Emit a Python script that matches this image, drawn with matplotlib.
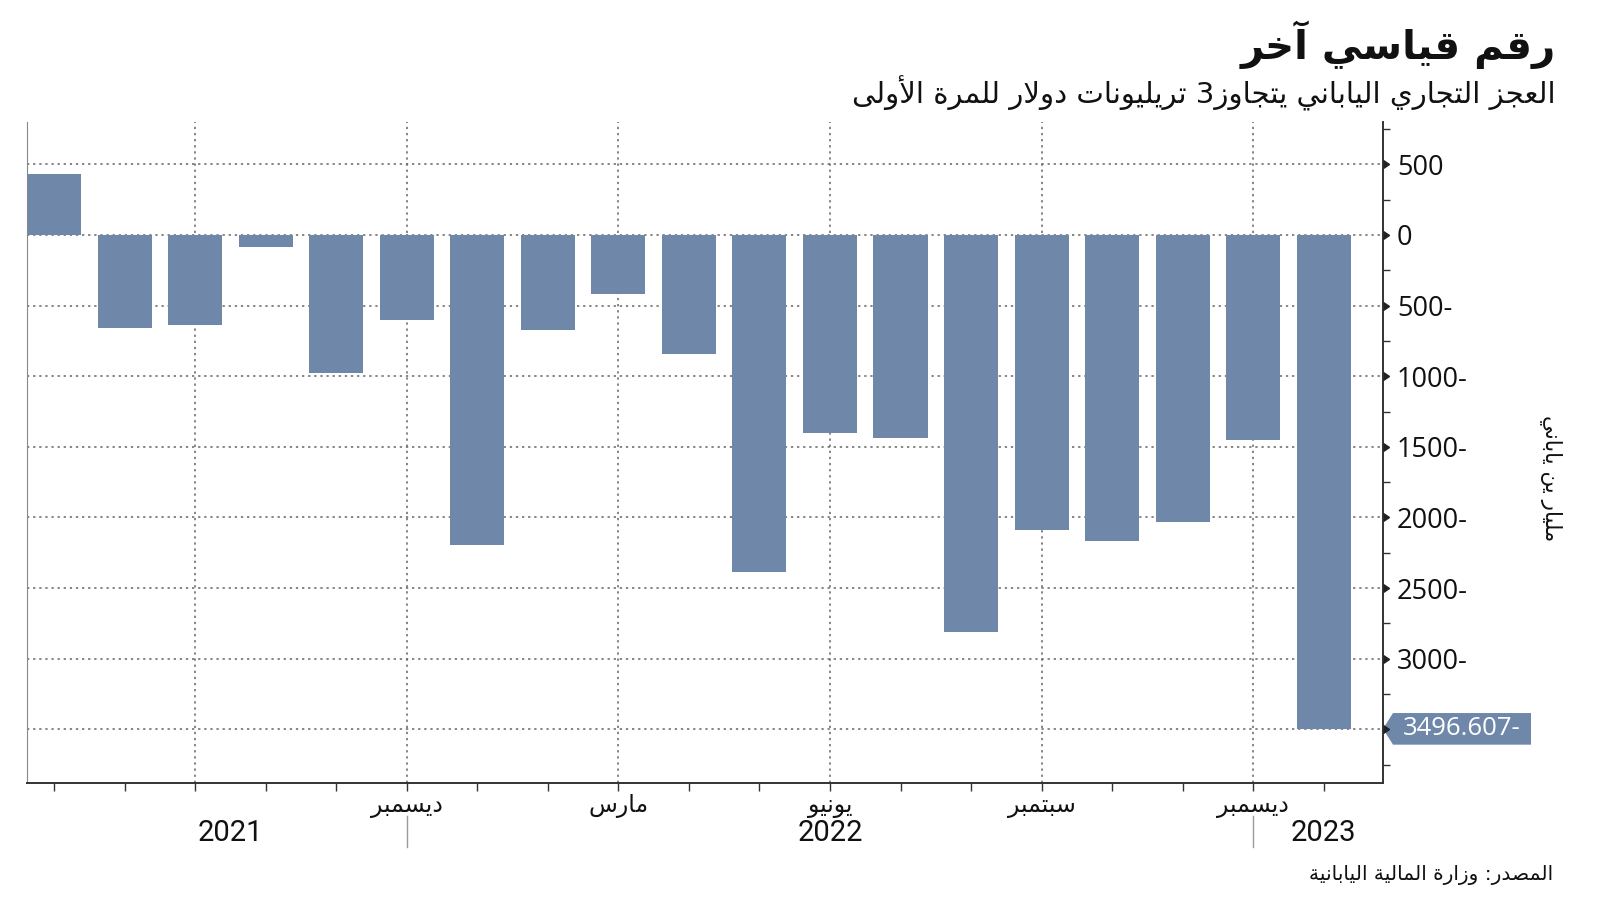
import re
import matplotlib
matplotlib.use("Agg")
import matplotlib.pyplot as plt
from matplotlib import transforms
from matplotlib.patches import Polygon
from matplotlib.ticker import FuncFormatter, FixedLocator

# Japanese trade balance, billion yen, Jul 2021 .. Jan 2023
months = ["2021-07", "2021-08", "2021-09", "2021-10", "2021-11", "2021-12",
          "2022-01", "2022-02", "2022-03", "2022-04", "2022-05", "2022-06",
          "2022-07", "2022-08", "2022-09", "2022-10", "2022-11", "2022-12",
          "2023-01"]
balance = [430, -655, -640, -85, -975, -600,
           -2195, -672, -418, -845, -2385, -1400,
           -1438, -2810, -2090, -2165, -2030, -1448,
           -3496.607]

grid_idx = [2, 5, 8, 11, 14, 17]
month_labels = ["", "ديسمبر", "مارس", "يونيو", "سبتمبر", "ديسمبر"]
years = ["2021", "2022", "2023"]
year_pos = [2.5, 11, 18]
year_breaks = [5, 17]
yticks = [500, 0, -500, -1000, -1500, -2000, -2500, -3000, -3500]

title = "رقم قياسي آخر"
subtitle = "العجز التجاري الياباني يتجاوز3 تريليونات دولار للمرة الأولى"
ylabel = "مليار ين ياباني"
source = "المصدر: وزارة المالية اليابانية"

BAR = "#6f88aa"
NUM_FONT = ['Open Sans', 'DejaVu Sans']
YEAR_FONT = ['Roboto', 'DejaVu Sans']

# --- tiny arabic shaper (matplotlib has no complex text layout) ---
FORMS = {
    '\u0627': ('\uFE8D', '\uFE8E', None, None),
    '\u0622': ('\uFE81', '\uFE82', None, None),
    '\u0623': ('\uFE83', '\uFE84', None, None),
    '\u0628': ('\uFE8F', '\uFE90', '\uFE91', '\uFE92'),
    '\u0629': ('\uFE93', '\uFE94', None, None),
    '\u062A': ('\uFE95', '\uFE96', '\uFE97', '\uFE98'),
    '\u062C': ('\uFE9D', '\uFE9E', '\uFE9F', '\uFEA0'),
    '\u062E': ('\uFEA5', '\uFEA6', '\uFEA7', '\uFEA8'),
    '\u062F': ('\uFEA9', '\uFEAA', None, None),
    '\u0631': ('\uFEAD', '\uFEAE', None, None),
    '\u0632': ('\uFEAF', '\uFEB0', None, None),
    '\u0633': ('\uFEB1', '\uFEB2', '\uFEB3', '\uFEB4'),
    '\u0635': ('\uFEB9', '\uFEBA', '\uFEBB', '\uFEBC'),
    '\u0639': ('\uFEC9', '\uFECA', '\uFECB', '\uFECC'),
    '\u0642': ('\uFED5', '\uFED6', '\uFED7', '\uFED8'),
    '\u0644': ('\uFEDD', '\uFEDE', '\uFEDF', '\uFEE0'),
    '\u0645': ('\uFEE1', '\uFEE2', '\uFEE3', '\uFEE4'),
    '\u0646': ('\uFEE5', '\uFEE6', '\uFEE7', '\uFEE8'),
    '\u0648': ('\uFEED', '\uFEEE', None, None),
    '\u0649': ('\uFEEF', '\uFEF0', None, None),
    '\u064A': ('\uFEF1', '\uFEF2', '\uFEF3', '\uFEF4'),
}
LAM_ALEF = {'\u0627': ('\uFEFB', '\uFEFC'), '\u0622': ('\uFEF5', '\uFEF6'),
            '\u0623': ('\uFEF7', '\uFEF8')}


def ar(s):
    def dual(c):
        return c in FORMS and FORMS[c][2] is not None
    out = []
    i, n = 0, len(s)
    while i < n:
        c = s[i]
        prev = s[i - 1] if i > 0 else ''
        jp = c in FORMS and dual(prev)
        if c == '\u0644' and i + 1 < n and s[i + 1] in LAM_ALEF:
            out.append(LAM_ALEF[s[i + 1]][1 if jp else 0])
            i += 2
            continue
        if c not in FORMS:
            out.append(c)
            i += 1
            continue
        nxt = s[i + 1] if i + 1 < n else ''
        jn = dual(c) and nxt in FORMS
        iso, fin, ini, med = FORMS[c]
        out.append(med if jp and jn else fin if jp else ini if jn else iso)
        i += 1
    toks = re.findall(r'[0-9A-Za-z.]+|.', ''.join(out))
    return ''.join(toks[::-1])


plt.rcParams['font.family'] = ['DejaVu Sans']

fig = plt.figure(figsize=(16, 9.01), dpi=100)
ax = fig.add_axes([27 / 1600, 1 - 783 / 901, 1356 / 1600, 661 / 901])

x = list(range(len(months)))
ax.bar(x, balance, width=0.766, color=BAR, zorder=2)

ax.set_xlim(-0.383, 18.84)
ax.set_ylim(-3880, 800)

# grid
ax.set_axisbelow(True)
ax.xaxis.set_major_locator(FixedLocator(grid_idx))
ax.xaxis.set_minor_locator(FixedLocator(x))
ax.set_xticklabels([ar(m) for m in month_labels])
ax.tick_params(axis='x', which='both', length=6, width=1, color='#333',
               labelsize=17, pad=2, labelcolor='#111')
ax.yaxis.tick_right()
ax.yaxis.set_major_locator(FixedLocator(yticks))
ax.yaxis.set_minor_locator(FixedLocator([v - 250 for v in yticks] + [750]))
ax.yaxis.set_major_formatter(FuncFormatter(
    lambda v, p: "" if v < -3250 else (f"{abs(int(v))}-" if v < 0 else f"{int(v)}")))
ax.tick_params(axis='y', which='major', length=0, pad=10, labelsize=19.5,
               labelcolor='#111')
for lab in ax.get_yticklabels():
    lab.set_family(NUM_FONT)
ax.tick_params(axis='y', which='minor', length=5, width=1, color='#333')
ax.grid(True, which='major', linestyle=(0, (1.5, 2.5)), color='#666', lw=1.1)

ax.spines['top'].set_visible(False)
ax.spines['left'].set_color('#888')
ax.spines['right'].set_color('#333')
ax.spines['right'].set_linewidth(1.4)
ax.spines['bottom'].set_color('#333')
ax.spines['bottom'].set_linewidth(1.4)

# caret ticks on right axis
blend = transforms.blended_transform_factory(ax.transAxes, ax.transData)
ax.plot([1] * len(yticks), yticks, marker=9, ls='none', ms=6, color='#222',
        transform=blend, clip_on=False, zorder=5)

# value tag on last bar
last = balance[-1]
h = 112
w = 148 / 1356
tip = 10 / 1356
tag = Polygon([(1.0, last), (1.0 + tip, last + h), (1.0 + w, last + h),
               (1.0 + w, last - h), (1.0 + tip, last - h)], closed=True,
              facecolor=BAR, edgecolor='none', transform=blend, clip_on=False)
ax.add_patch(tag)
ax.text(1.0 + tip + (w - tip) / 2, last, f"{abs(last):.3f}-", color='white',
        fontsize=18.5, ha='center', va='center', transform=blend, family=NUM_FONT)

# year labels and separators
bx = transforms.blended_transform_factory(ax.transData, ax.transAxes)
for yr, p in zip(years, year_pos):
    ax.text(p, -0.0756, yr, transform=bx, ha='center', va='center',
            fontsize=21, color='#111', family=YEAR_FONT)
for b in year_breaks:
    ax.plot([b, b], [-0.050, -0.097], transform=bx, clip_on=False,
            color='#999', lw=1)

fig.text(1556 / 1600, 1 - 45 / 901, ar(title), ha='right', va='center',
         fontsize=29, fontweight='bold', color='#111')
fig.text(1556 / 1600, 1 - 93 / 901, ar(subtitle), ha='right', va='center',
         fontsize=21, color='#111')
fig.text(1551 / 1600, 1 - 478 / 901, ar(ylabel), rotation=270, ha='center',
         va='center', fontsize=15.5, color='#111')
fig.text(1553 / 1600, 1 - 875 / 901, ar(source), ha='right', va='center',
         fontsize=14.5, color='#111')

fig.savefig("out.png", dpi=100)
